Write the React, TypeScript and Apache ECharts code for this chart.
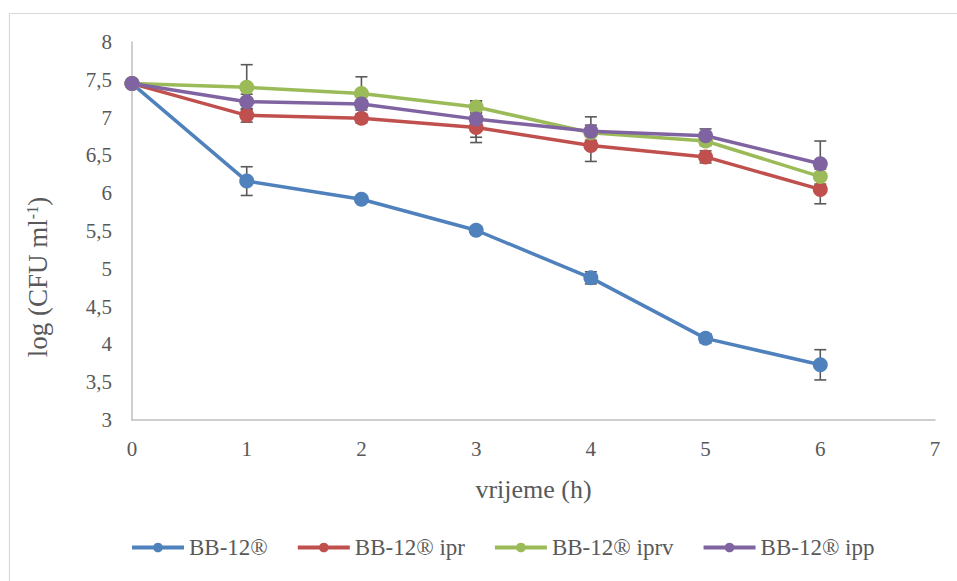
import React, { useEffect, useRef } from "react";
import * as echarts from "echarts";

const hours = [0, 1, 2, 3, 4, 5, 6];
const seriesNames = ["BB-12®", "BB-12® ipr", "BB-12® iprv", "BB-12® ipp"];
const colors = ["#4F81BD", "#C0504D", "#9BBB59", "#8064A2"];

const bb12 = [7.45, 6.16, 5.92, 5.51, 4.88, 4.08, 3.73];
const bb12ipr = [7.45, 7.03, 6.99, 6.87, 6.63, 6.48, 6.05];
const bb12iprv = [7.45, 7.4, 7.32, 7.14, 6.8, 6.69, 6.22];
const bb12ipp = [7.45, 7.21, 7.18, 6.98, 6.82, 6.76, 6.39];

const bb12Err = [0, 0.19, 0.03, 0.05, 0.08, 0.06, 0.2];
const bb12iprErr = [0, 0.09, 0.06, 0.2, 0.21, 0.08, 0.19];
const bb12iprvErr = [0, 0.3, 0.22, 0.08, 0.1, 0.06, 0.1];
const bb12ippErr = [0, 0.1, 0.05, 0.24, 0.19, 0.09, 0.3];

const values = [bb12, bb12ipr, bb12iprv, bb12ipp];
const errors = [bb12Err, bb12iprErr, bb12iprvErr, bb12ippErr];

const FONT = "Liberation Serif";
const TXT = "#595959";

export default function App() {
  const ref = useRef<HTMLDivElement>(null);
  useEffect(() => {
    if (!ref.current) return;
    const chart = echarts.init(ref.current, undefined, { renderer: "svg" });

    const lineSeries = seriesNames.map((name, k) => ({
      type: "line",
      name,
      data: hours.map((h, i) => [h, values[k][i]]),
      symbol: "circle",
      symbolSize: 15,
      color: colors[k],
      lineStyle: { width: 3.5, color: colors[k] },
      itemStyle: { color: colors[k] },
      z: 3,
      silent: true,
    }));

    const errSeries = seriesNames.map((name, k) => ({
      type: "custom",
      name: name + " err",
      data: hours
        .map((h, i) => [h, values[k][i] - errors[k][i], values[k][i] + errors[k][i], errors[k][i]])
        .filter((d) => d[3] > 0),
      z: 2,
      silent: true,
      renderItem: (params: any, api: any) => {
        const x = api.value(0);
        const lo = api.coord([x, api.value(1)]);
        const hi = api.coord([x, api.value(2)]);
        const hw = 6;
        const st = { stroke: "#595959", lineWidth: 1.6 };
        return {
          type: "group",
          children: [
            { type: "line", shape: { x1: lo[0], y1: lo[1], x2: hi[0], y2: hi[1] }, style: st },
            { type: "line", shape: { x1: lo[0] - hw, y1: lo[1], x2: lo[0] + hw, y2: lo[1] }, style: st },
            { type: "line", shape: { x1: hi[0] - hw, y1: hi[1], x2: hi[0] + hw, y2: hi[1] }, style: st },
          ],
        };
      },
    }));

    chart.setOption({
      animation: false,
      backgroundColor: "#ffffff",
      textStyle: { fontFamily: FONT },
      grid: { left: 132, right: 22, top: 42, bottom: 161 },
      legend: {
        data: seriesNames,
        bottom: 17,
        left: 125,
        itemWidth: 52,
        itemHeight: 12,
        itemGap: 28,
        lineStyle: { width: 4 },
        textStyle: { fontFamily: FONT, fontSize: 23, color: TXT },
      },
      xAxis: {
        type: "value",
        min: 0,
        max: 7,
        interval: 1,
        name: "vrijeme (h)",
        nameLocation: "middle",
        nameGap: 56,
        nameTextStyle: { fontFamily: FONT, fontSize: 26, color: TXT },
        axisLine: { lineStyle: { color: "#BFBFBF", width: 1.5 } },
        axisTick: { show: false },
        splitLine: { show: false },
        axisLabel: { fontFamily: FONT, fontSize: 21, color: TXT, margin: 18 },
      },
      yAxis: {
        type: "value",
        min: 3,
        max: 8,
        interval: 0.5,
        axisLine: { show: true, lineStyle: { color: "#BFBFBF", width: 1.5 } },
        axisTick: { show: false },
        splitLine: { show: false },
        axisLabel: {
          fontFamily: FONT,
          fontSize: 21,
          color: TXT,
          margin: 20,
          formatter: (v: number) => String(v).replace(".", ","),
        },
      },
      graphic: [
        {
          type: "rect",
          shape: { x: 9.5, y: 13.5, width: 1200, height: 1200 },
          style: { fill: "none", stroke: "#D9D9D9", lineWidth: 1.2 },
          silent: true,
          z: -1,
        },
        {
          type: "text",
          x: 38,
          y: 277,
          rotation: Math.PI / 2,
          style: {
            text: "{a|log (CFU ml}{s|-1}{a|)}",
            align: "center",
            verticalAlign: "middle",
            rich: {
              a: { fontFamily: FONT, fontSize: 27, fill: TXT },
              s: { fontFamily: FONT, fontSize: 16, fill: TXT, verticalAlign: "top" },
            },
          },
        },
      ],
      series: [...errSeries, ...lineSeries],
    });
    return () => chart.dispose();
  }, []);
  return (
    <div
      ref={ref}
      style={{ position: "absolute", left: 0, top: 0, width: 957, height: 581 }}
    />
  );
}
